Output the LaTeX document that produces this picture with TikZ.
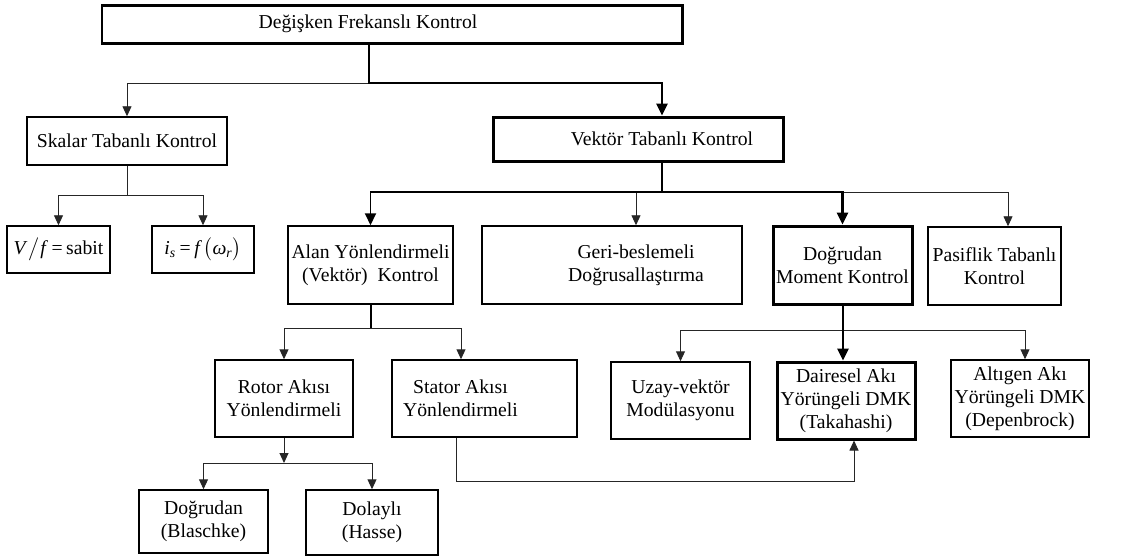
\documentclass[tikz,border=0pt]{standalone}
\usepackage{amsmath}
\usepackage{fontspec}
\setmainfont{Liberation Serif}
\usepackage{tikz}
\usetikzlibrary{arrows.meta,positioning}
\newcommand{\shiftr}{\hspace*{0.96cm}}
\newcommand{\eqsign}{\kern2pt=\kern2pt}

\begin{document}
\begin{tikzpicture}[
  box/.style={draw=black, line width=0.85pt, fill=white,
              align=center, inner sep=1pt,
              font=\fontsize{11.2}{13}\selectfont},
  boldbox/.style={box, line width=1.7pt},
  link/.style={line width=0.55pt, draw=black!85},
  arrow/.style={link, -{Triangle[length=2mm, width=1.8mm]}},
  boldarrow/.style={line width=1.5pt, draw=black, -{Triangle[length=2.4mm, width=2.2mm]}},
  boldlink/.style={line width=1.5pt, draw=black}
]
  \useasboundingbox (0,0) rectangle (22.76,-11.10);

  \node[boldbox, minimum width=11.6cm, minimum height=0.76cm] (top) at (7.84,-0.48) {Değişken Frekanslı Kontrol\shiftr};

  \node[box, minimum width=4.0cm, minimum height=0.96cm] (skalar) at (2.54,-2.82) {Skalar Tabanlı Kontrol};
  \node[boldbox, minimum width=5.8cm, minimum height=0.88cm] (vektor) at (12.76,-2.78) {\shiftr Vektör Tabanlı Kontrol};

  \node[box, minimum width=2.06cm, minimum height=0.94cm] (vf) at (1.17,-4.99) {\textit{V}\kern0.5pt$\big/$\kern0.5pt\textit{f}\eqsign sabit};
  \node[box, minimum width=2.04cm, minimum height=0.94cm] (is) at (4.06,-4.99) {\textit{i}\textsubscript{\textit{s}}\eqsign\textit{f}\kern1pt$\bigl($\textit{ω}\textsubscript{\textit{r}}$\bigr)$};

  \node[box, minimum width=3.3cm, minimum height=1.56cm] (alan) at (7.41,-5.30) {Alan Yönlendirmeli\\(Vektör)\ \ Kontrol};
  \node[box, minimum width=5.2cm, minimum height=1.56cm] (geri) at (12.24,-5.30) {\shiftr Geri-beslemeli\\\shiftr Doğrusallaştırma};
  \node[boldbox, minimum width=2.78cm, minimum height=1.56cm] (dmk) at (16.85,-5.30) {Doğrudan\\Moment Kontrol};
  \node[box, minimum width=2.66cm, minimum height=1.56cm] (pasif) at (19.89,-5.32) {Pasiflik Tabanlı\\Kontrol};

  \node[box, minimum width=2.76cm, minimum height=1.54cm] (rotor) at (5.68,-7.97) {Rotor Akısı\\Yönlendirmeli};
  \node[box, minimum width=3.7cm, minimum height=1.54cm] (stator) at (9.69,-7.97) {Stator Akısı\shiftr\\Yönlendirmeli\shiftr};
  \node[box, minimum width=2.78cm, minimum height=1.54cm] (uzay) at (13.61,-8.01) {Uzay-vektör\\Modülasyonu};
  \node[boldbox, minimum width=2.76cm, minimum height=1.54cm] (dairesel) at (16.92,-8.01) {Dairesel Akı\\Yörüngeli DMK\\(Takahashi)};
  \node[box, minimum width=2.76cm, minimum height=1.54cm] (altigen) at (20.40,-7.97) {Altıgen Akı\\Yörüngeli DMK\\(Depenbrock)};

  \node[box, minimum width=2.58cm, minimum height=1.26cm] (blaschke) at (4.07,-10.43) {Doğrudan\\(Blaschke)};
  \node[box, minimum width=2.64cm, minimum height=1.30cm] (hasse) at (7.44,-10.45) {Dolaylı\\(Hasse)};

  \coordinate (j0) at (7.38,-1.66);
  \coordinate (j1) at (2.54,-3.90);
  \coordinate (j2) at (13.24,-3.84);
  \coordinate (j3) at (7.42,-6.56);
  \coordinate (j4) at (5.68,-9.26);
  \coordinate (j5) at (9.12,-9.62);
  \coordinate (j6) at (16.86,-6.60);

  \draw[arrow] (j0) -| (skalar.north);
  \draw[boldarrow] (top.south -| j0) -- (j0) -| ([xshift=0.48cm]vektor.north);

  \draw[link] (skalar.south) -- (j1);
  \draw[arrow] (j1) -| (vf.north);
  \draw[arrow] (j1) -| (is.north);

  \draw[arrow] (j2) -| ([xshift=0.48cm]geri.north);
  \draw[arrow] (j2) -| ([xshift=0.27cm]pasif.north);
  \draw[boldarrow, line width=1.1pt] (j2) -| (alan.north);
  \draw[boldarrow] (vektor.south -| j2) -- (j2) -| (dmk.north);

  \draw[boldlink] (alan.south -| j3) -- (j3);
  \draw[arrow] (j3) -| (rotor.north);
  \draw[arrow] (j3) -| ([xshift=-0.47cm]stator.north);

  \draw[arrow] (rotor.south) -- (j4);
  \draw[arrow] (j4) -| (blaschke.north);
  \draw[arrow] (j4) -| (hasse.north);

  \draw[arrow] (stator.south -| j5) -- (j5) -| ([xshift=0.16cm]dairesel.south);

  \draw[arrow] (j6) -| (uzay.north);
  \draw[arrow] (j6) -| ([xshift=0.1cm]altigen.north);
  \draw[boldarrow] (dmk.south -| j6) -- (dairesel.north -| j6);
\end{tikzpicture}
\end{document}
